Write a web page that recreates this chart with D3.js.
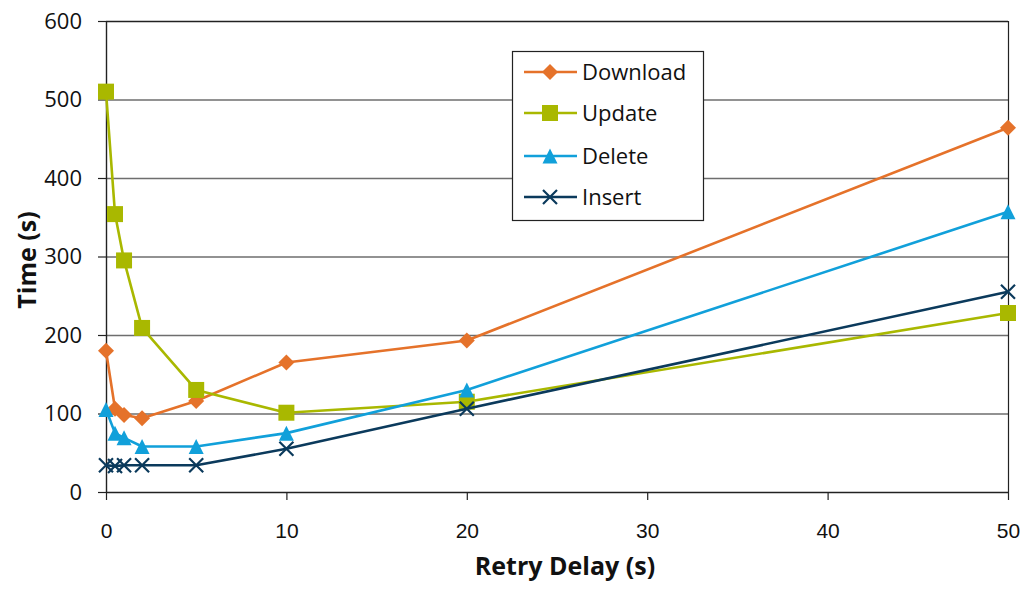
<!DOCTYPE html>
<html>
<head>
<meta charset="utf-8">
<script src="https://cdn.jsdelivr.net/npm/d3@7"></script>
<style>
  html, body { margin: 0; padding: 0; background: #fff; }
  svg { display: block; font-family: "Open Sans", "Noto Sans", "Liberation Sans", sans-serif; }
</style>
</head>
<body>
<svg id="chart" width="1024" height="590"></svg>
<script>
// Retry delay (s) on the x axis
const delays = [0, 0.5, 1, 2, 5, 10, 20, 50];

// Time (s) for each operation at each retry delay
const download = [180, 106, 98, 94, 116, 165, 193, 464];
const update   = [510, 354, 295, 209, 130, 101, 115, 228];
const deleteT  = [105, 75, 69, 58, 58, 75, 130, 357];
const insert   = [34, 33, 34, 34, 34, 55, 106, 255];

const seriesNames = ["Download", "Update", "Delete", "Insert"];
const xTicks = [0, 10, 20, 30, 40, 50];
const yTicks = [0, 100, 200, 300, 400, 500, 600];

const colors = {
  Download: "#E5722A",
  Update: "#A9B800",
  Delete: "#11A0DA",
  Insert: "#0B3A5C"
};
const symbols = {
  Download: "diamond",
  Update: "square",
  Delete: "triangle",
  Insert: "cross"
};

const series = [
  { name: "Download", values: download },
  { name: "Update", values: update },
  { name: "Delete", values: deleteT },
  { name: "Insert", values: insert }
];

const svg = d3.select("#chart");
const margin = { left: 106, right: 16, top: 21, bottom: 98 };
const W = 1024, H = 590;

const x = d3.scaleLinear().domain([0, 50]).range([margin.left, W - margin.right]);
const y = d3.scaleLinear().domain([0, 600]).range([H - margin.bottom, margin.top]);

// horizontal gridlines
svg.append("g")
  .selectAll("line")
  .data(yTicks.filter(d => d > 0))
  .join("line")
  .attr("x1", x(0)).attr("x2", x(50))
  .attr("y1", d => y(d) + 0.5).attr("y2", d => y(d) + 0.5)
  .attr("stroke", d => d === 600 ? "#222" : "#6e6e6e")
  .attr("stroke-width", 1.3);

// right border of plot area
svg.append("line")
  .attr("x1", x(50) + 0.5).attr("x2", x(50) + 0.5)
  .attr("y1", y(600)).attr("y2", y(0))
  .attr("stroke", "#222").attr("stroke-width", 1.2);

// y axis
const yAxis = svg.append("g")
  .attr("transform", `translate(${x(0)},0)`)
  .call(d3.axisLeft(y).tickValues(yTicks).tickSize(8).tickPadding(16).tickSizeOuter(0));
yAxis.select(".domain").attr("stroke", "#222").attr("stroke-width", 1.4);
yAxis.selectAll(".tick line").attr("stroke", "#222").attr("stroke-width", 1.2);
yAxis.selectAll(".tick text")
  .attr("font-size", 22).attr("fill", "#111")
  .attr("font-family", "'Open Sans', 'Noto Sans', sans-serif");

// x axis
const xAxis = svg.append("g")
  .attr("transform", `translate(0,${y(0)})`)
  .call(d3.axisBottom(x).tickValues(xTicks).tickSize(8).tickSizeOuter(0));
xAxis.select(".domain").attr("stroke", "#222").attr("stroke-width", 1.4);
xAxis.selectAll(".tick line").attr("stroke", "#222").attr("stroke-width", 1.2);
xAxis.selectAll(".tick text")
  .attr("y", 46).attr("dy", 0)
  .attr("font-size", 21).attr("fill", "#111")
  .attr("font-family", "'Liberation Sans', 'Noto Sans', sans-serif");

// axis titles
svg.append("text")
  .attr("x", 565).attr("y", 575)
  .attr("text-anchor", "middle")
  .attr("font-size", 25).attr("font-weight", "bold").attr("fill", "#111")
  .text("Retry Delay (s)");

svg.append("text")
  .attr("transform", `translate(36,${260}) rotate(-90)`)
  .attr("text-anchor", "middle")
  .attr("font-size", 25).attr("font-weight", "bold").attr("fill", "#111")
  .text("Time (s)");

// marker drawing
function markerPath(kind, size) {
  const s = size / 2;
  if (kind === "diamond") return `M0,${-s}L${s},0L0,${s}L${-s},0Z`;
  if (kind === "square") return `M${-s},${-s}H${s}V${s}H${-s}Z`;
  if (kind === "triangle") return `M0,${-s}L${s},${s}L${-s},${s}Z`;
  return `M${-s},${-s}L${s},${s}M${s},${-s}L${-s},${s}`;
}
function drawMarker(g, kind, color) {
  if (kind === "cross") {
    g.append("path").attr("d", markerPath(kind, 14))
      .attr("stroke", color).attr("stroke-width", 2.2).attr("fill", "none");
  } else {
    const sz = kind === "diamond" ? 16 : (kind === "square" ? 16 : 15);
    g.append("path").attr("d", markerPath(kind, sz)).attr("fill", color);
  }
}

const line = d3.line().x(d => x(d[0])).y(d => y(d[1]));

// lines and markers, drawn in series order
series.forEach(s => {
  const pts = delays.map((d, i) => [d, s.values[i]]);
  const g = svg.append("g");
  g.append("path")
    .datum(pts)
    .attr("d", line)
    .attr("fill", "none")
    .attr("stroke", colors[s.name])
    .attr("stroke-width", 2.6)
    .attr("stroke-linejoin", "round");
  pts.forEach(p => {
    const m = g.append("g").attr("transform", `translate(${x(p[0])},${y(p[1])})`);
    drawMarker(m, symbols[s.name], colors[s.name]);
  });
});

// legend
const legend = svg.append("g");
legend.append("rect")
  .attr("x", 512.5).attr("y", 51.5).attr("width", 191).attr("height", 169)
  .attr("fill", "#fff").attr("stroke", "#222").attr("stroke-width", 1.2);
const rowY = [72, 113, 156, 197];
seriesNames.forEach((name, i) => {
  const row = legend.append("g").attr("transform", `translate(0,${rowY[i]})`);
  row.append("line")
    .attr("x1", 524).attr("x2", 577).attr("y1", 0).attr("y2", 0)
    .attr("stroke", colors[name]).attr("stroke-width", 2.6);
  const m = row.append("g").attr("transform", "translate(550,0)");
  drawMarker(m, symbols[name], colors[name]);
  row.append("text")
    .attr("x", 582).attr("y", 0).attr("dy", "0.36em")
    .attr("font-size", 22).attr("fill", "#111")
    .text(name);
});
</script>
</body>
</html>
